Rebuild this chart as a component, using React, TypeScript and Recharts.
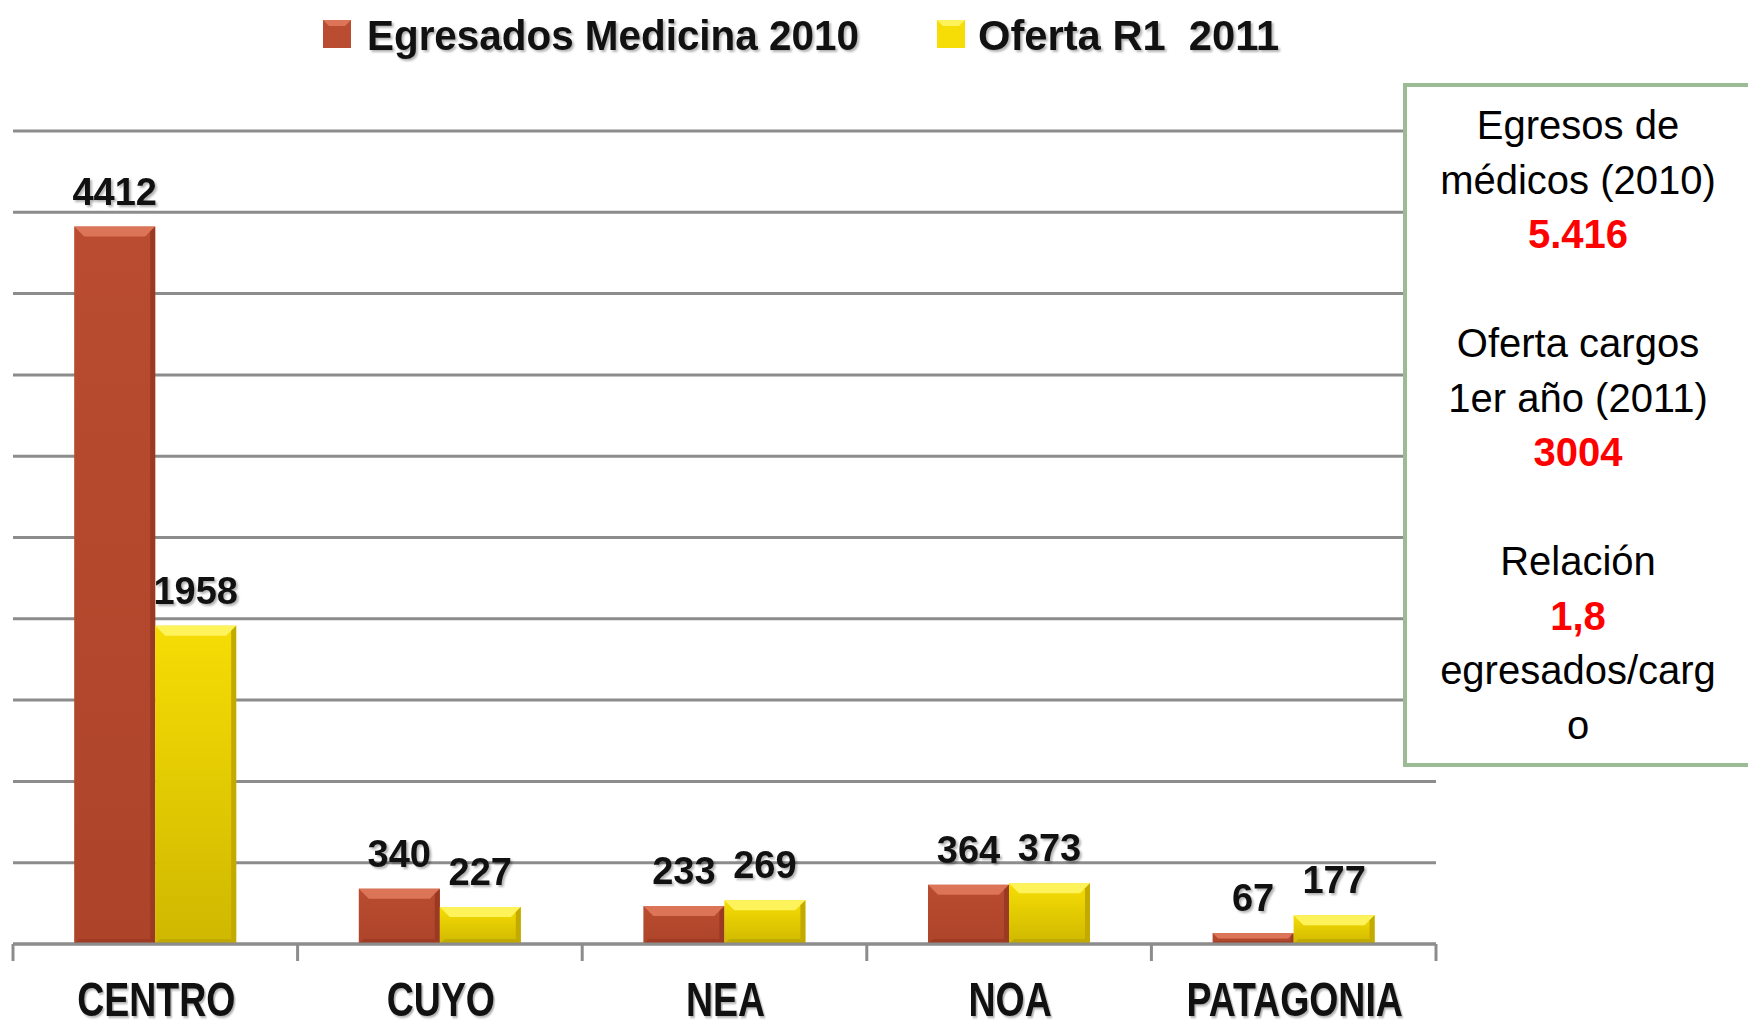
import React from 'react'
import { BarChart, Bar, XAxis, YAxis, CartesianGrid, LabelList } from 'recharts'

const CATEGORIES = ['CENTRO', 'CUYO', 'NEA', 'NOA', 'PATAGONIA']
const EGRESADOS = [4412, 340, 233, 364, 67]
const OFERTA = [1958, 227, 269, 373, 177]
const Y_TICKS = [0, 500, 1000, 1500, 2000, 2500, 3000, 3500, 4000, 4500, 5000]
const SERIES_NAMES = ['Egresados Medicina 2010', 'Oferta R1  2011']

// lines of the side note; null = empty line
const NOTE_LINES: ({ text: string; strong?: boolean } | null)[] = [
  { text: 'Egresos de' },
  { text: 'médicos (2010)' },
  { text: '5.416', strong: true },
  null,
  { text: 'Oferta cargos' },
  { text: '1er año (2011)' },
  { text: '3004', strong: true },
  null,
  { text: 'Relación' },
  { text: '1,8', strong: true },
  { text: 'egresados/carg' },
  { text: 'o' },
]

const data = CATEGORIES.map((region, i) => ({
  region,
  egresados: EGRESADOS[i],
  oferta: OFERTA[i],
}))

const W = 1748
const H = 1027
const MARGIN = { top: 131, right: 312, bottom: 0, left: 13 }
const GRID = '#8c8c8c'
const FONT = '"Liberation Sans", Arial, sans-serif'
const SHADOW = 'drop-shadow(2px 2px 1px rgba(0,0,0,0.3))'

const RED = { top: '#b94c31', bottom: '#ad4429', bevel: '#dc7457', side: '#9a3a22', base: '#963620' }
const YEL = { top: '#f6dd05', bottom: '#cfb800', bevel: '#fff35c', side: '#c2aa00', base: '#b59f00' }

function makeBevel(pal: typeof RED, grad: string) {
  return function BevelBar(props: any) {
    const { x, y, width, height } = props
    if (!height || height <= 0) return null
    const b = Math.min(10, height / 2, width / 4)
    return (
      <g>
        <rect x={x} y={y} width={width} height={height} fill={`url(#${grad})`} />
        <polygon
          points={`${x},${y} ${x + width},${y} ${x + width - b},${y + b} ${x + b},${y + b}`}
          fill={pal.bevel}
        />
        <polygon
          points={`${x + width},${y} ${x + width},${y + height} ${x + width - b * 0.5},${y + height - b * 0.5} ${x + width - b * 0.5},${y + b * 0.5}`}
          fill={pal.side}
        />
        <polygon
          points={`${x},${y + height} ${x + width},${y + height} ${x + width - b * 0.5},${y + height - b * 0.5} ${x + b * 0.5},${y + height - b * 0.5}`}
          fill={pal.base}
          opacity={0.6}
        />
      </g>
    )
  }
}

const RedBar = makeBevel(RED, 'gradRed')
const YelBar = makeBevel(YEL, 'gradYel')

function CategoryTick(props: any) {
  const { x, y, payload, index, visibleTicksCount } = props
  const plotW = W - MARGIN.left - MARGIN.right
  const half = payload && payload.offset ? payload.offset : plotW / CATEGORIES.length / 2
  const last = index === (visibleTicksCount ?? CATEGORIES.length) - 1
  return (
    <g>
      <line x1={x - half} x2={x - half} y1={y} y2={y + 17} stroke={GRID} strokeWidth={3} />
      {last && <line x1={x + half} x2={x + half} y1={y} y2={y + 17} stroke={GRID} strokeWidth={3} />}
      <text
        transform={`translate(${x + 1},${y + 72}) scale(0.78,1)`}
        textAnchor="middle"
        fontFamily={FONT}
        fontWeight="bold"
        fontSize={48}
        fill="#111"
        style={{ filter: SHADOW }}
      >
        {payload.value}
      </text>
    </g>
  )
}

const labelStyle = {
  fontFamily: FONT,
  fontWeight: 'bold' as const,
  fontSize: 38,
  fill: '#111',
  filter: SHADOW,
}

export default function App() {
  return (
    <div style={{ position: 'fixed', left: 0, top: 0, width: W, height: H, overflow: 'hidden', background: '#fff' }}>
      <BarChart width={W} height={H} data={data} margin={MARGIN} barCategoryGap="21.5%" barGap={0}>
        <defs>
          <linearGradient id="gradRed" x1="0" y1="0" x2="0" y2="1">
            <stop offset="0%" stopColor={RED.top} />
            <stop offset="100%" stopColor={RED.bottom} />
          </linearGradient>
          <linearGradient id="gradYel" x1="0" y1="0" x2="0" y2="1">
            <stop offset="0%" stopColor={YEL.top} />
            <stop offset="100%" stopColor={YEL.bottom} />
          </linearGradient>
        </defs>
        <CartesianGrid vertical={false} stroke={GRID} strokeWidth={3} />
        <XAxis
          dataKey="region"
          height={83}
          interval={0}
          axisLine={{ stroke: GRID, strokeWidth: 3 }}
          tickLine={false}
          tickSize={0}
          tickMargin={0}
          tick={<CategoryTick />}
        />
        <YAxis hide domain={[0, 5000]} ticks={Y_TICKS} />
        <Bar dataKey="egresados" name={SERIES_NAMES[0]} fill={RED.top} shape={<RedBar />} isAnimationActive={false}>
          <LabelList dataKey="egresados" position="top" offset={22} style={labelStyle} />
        </Bar>
        <Bar dataKey="oferta" name={SERIES_NAMES[1]} fill={YEL.top} shape={<YelBar />} isAnimationActive={false}>
          <LabelList dataKey="oferta" position="top" offset={22} style={labelStyle} />
        </Bar>
      </BarChart>

      <svg width={W} height={H} style={{ position: 'absolute', left: 0, top: 0, pointerEvents: 'none' }}>
        {/* legend */}
        <rect x={323} y={20} width={28} height={28} fill={RED.top} />
        <polygon points="323,20 351,20 345,26 329,26" fill={RED.bevel} />
        <text
          transform="translate(367,50) scale(0.94,1)"
          fontFamily={FONT}
          fontWeight="bold"
          fontSize={43}
          fill="#111"
          style={{ filter: SHADOW, whiteSpace: 'pre' }}
        >
          {SERIES_NAMES[0]}
        </text>
        <rect x={937} y={20} width={28} height={28} fill={YEL.top} />
        <polygon points="937,20 965,20 959,26 943,26" fill={YEL.bevel} />
        <text
          transform="translate(978,50) scale(0.97,1)"
          fontFamily={FONT}
          fontWeight="bold"
          fontSize={43}
          fill="#111"
          style={{ filter: SHADOW, whiteSpace: 'pre' }}
          xmlSpace="preserve"
        >
          {SERIES_NAMES[1]}
        </text>

        {/* side note */}
        <rect x={1405} y={85} width={400} height={680} fill="#fff" stroke="#9bbb95" strokeWidth={4} />
        {NOTE_LINES.map((line, i) =>
          line ? (
            <text
              key={i}
              x={1578}
              y={139 + i * 54.5}
              textAnchor="middle"
              fontFamily={FONT}
              fontSize={40}
              fontWeight={line.strong ? 'bold' : 'normal'}
              fill={line.strong ? '#ff0000' : '#000'}
            >
              {line.text}
            </text>
          ) : null
        )}
      </svg>
    </div>
  )
}
